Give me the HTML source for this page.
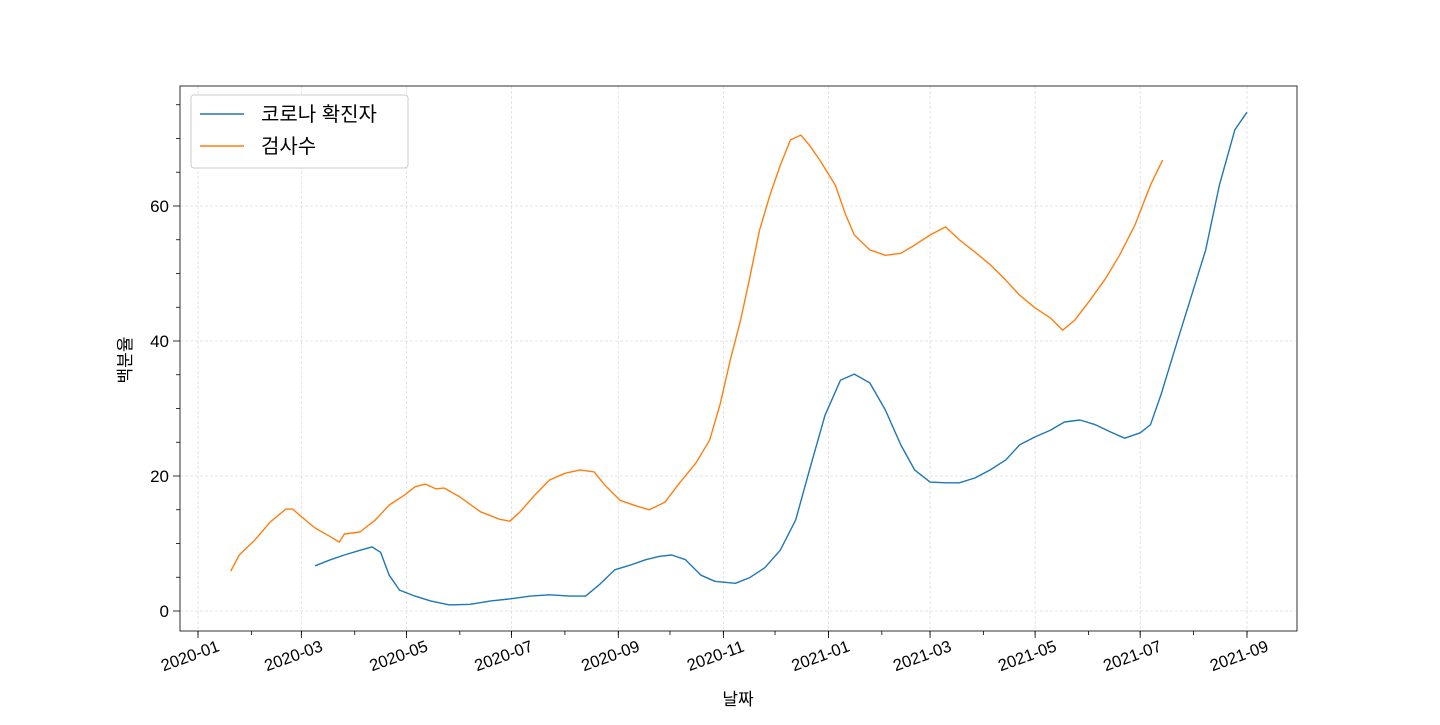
<!DOCTYPE html>
<html><head><meta charset="utf-8"><style>
body{margin:0;background:#fff;}
svg text{font-family:"Liberation Sans","Noto Sans CJK KR",sans-serif;}
</style></head><body>
<svg id="chart" width="1440" height="720" xmlns="http://www.w3.org/2000/svg"></svg>
<script>
const confirmedDays=[68,77,85,94,101,106,111,117,126,135,146,158,170,181,193,204,216,225,233,242,251,260,268,275,283,292,300,312,320,329,338,347,355,364,373,381,390,399,408,416,425,434,442,451,460,469,477,486,495,503,512,521,530,538,547,553,559,567,576,585,593,602,609];
const confirmedVals=[6.7,7.6,8.3,9,9.5,8.7,5.3,3.1,2.2,1.5,0.9,1,1.5,1.8,2.2,2.4,2.2,2.2,3.9,6.1,6.8,7.6,8.1,8.3,7.6,5.3,4.4,4.1,4.9,6.4,9,13.5,20.9,29,34.2,35.1,33.8,29.8,24.6,20.9,19.1,19,19,19.7,20.9,22.4,24.6,25.8,26.8,28,28.3,27.6,26.5,25.6,26.4,27.6,32,38.7,46.1,53.5,63.1,71.3,73.9];
const testDays=[19,24,33,42,51,55,59,68,77,82,85,94,103,111,120,126,132,138,143,152,164,175,181,187,196,204,213,222,230,236,245,254,262,271,280,289,297,303,309,315,320,326,332,338,344,350,355,361,370,376,381,390,399,408,416,425,434,442,451,460,469,477,486,495,502,509,518,527,535,544,553,560];
const testVals=[5.9,8.3,10.5,13.2,15.1,15.1,14.2,12.3,11,10.2,11.4,11.7,13.5,15.7,17.2,18.4,18.8,18.1,18.2,16.9,14.7,13.6,13.3,14.7,17.3,19.4,20.4,20.9,20.6,18.7,16.4,15.6,15,16.1,19.1,21.9,25.3,30.5,37.2,43.1,49,56.4,61.6,66,69.8,70.5,69,66.8,63.1,58.7,55.7,53.5,52.7,53,54.2,55.7,56.9,55,53.2,51.3,49,46.8,44.9,43.4,41.6,43.1,46.1,49.3,52.7,57.2,63.1,66.8];
const xTickLabels=["2020-01","2020-03","2020-05","2020-07","2020-09","2020-11","2021-01","2021-03","2021-05","2021-07","2021-09"];
const xTickDays=[0,60,121,182,244,305,366,425,486,547,609];
const monthDays=[0,31,60,91,121,152,182,213,244,274,305,335,366,397,425,456,486,517,547,578,609];
const yTicks=[0,20,40,60];
const NS="http://www.w3.org/2000/svg";
const svg=document.getElementById('chart');
const L=180,R=1297,T=86,B=631;
const xs=d=>198+d*1.7225;
const ys=v=>611-v*6.75;
function el(t,a,p){const e=document.createElementNS(NS,t);for(const k in a)e.setAttribute(k,a[k]);(p||svg).appendChild(e);return e;}
xTickDays.forEach(d=>{const g=el('line',{x1:xs(d),x2:xs(d),y1:T,y2:B,stroke:'#ddd','stroke-width':0.8,'stroke-dasharray':'3,2'});

});
yTicks.forEach(v=>{const g=el('line',{x1:L,x2:R,y1:ys(v),y2:ys(v),stroke:'#ddd','stroke-width':0.8,'stroke-dasharray':'3,2'});

});
const fr=el('rect',{x:L,y:T,width:R-L,height:B-T,fill:'none',stroke:'#000','stroke-width':0.8});


monthDays.forEach(d=>{el('line',{x1:xs(d),x2:xs(d),y1:B,y2:B+4,stroke:'#000','stroke-width':0.8});});
for(let v=0;v<=75;v+=5){if(v%20!==0)el('line',{x1:L-4,x2:L,y1:ys(v),y2:ys(v),stroke:'#000','stroke-width':0.8});}
xTickDays.forEach((d,i)=>{el('line',{x1:xs(d),x2:xs(d),y1:B,y2:B+7,stroke:'#000','stroke-width':0.8});
const t=el('text',{x:0,y:0,'font-size':16.5,'text-anchor':'middle',transform:`translate(${xs(d)-6},${B+30}) rotate(-20)`});
t.textContent=xTickLabels[i];

});
yTicks.forEach(v=>{el('line',{x1:L-7,x2:L,y1:ys(v),y2:ys(v),stroke:'#000','stroke-width':0.8});
const t=el('text',{x:L-11,y:ys(v)+6,'font-size':17,'text-anchor':'end'});t.textContent=v;

});
function line(days,vals,color,name){const p=el('path',{d:days.map((d,i)=>(i?'L':'M')+xs(d).toFixed(1)+','+ys(vals[i]).toFixed(1)).join(''),fill:'none',stroke:color,'stroke-width':1.4,'stroke-linejoin':'round'});

}
line(confirmedDays,confirmedVals,'#1f77b4','confirmed-line');
line(testDays,testVals,'#ff7f0e','tests-line');
const xt=el('text',{x:738,y:705,'font-size':17,'text-anchor':'middle'});xt.textContent='날짜';


const yt=el('text',{x:0,y:0,'font-size':17,'text-anchor':'middle',transform:'translate(131,360) rotate(-90)'});yt.textContent='백분율';


const lg=el('g',{});


el('rect',{x:191,y:95,width:217,height:73,rx:3,fill:'#fff',stroke:'#ccc','stroke-width':1},lg);
[['코로나 확진자','#1f77b4',114],['검사수','#ff7f0e',146]].forEach(([n,c,y])=>{
el('line',{x1:200,x2:244,y1:y,y2:y,stroke:c,'stroke-width':1.4},lg);
const t=el('text',{x:261,y:y+7,'font-size':20},lg);t.textContent=n;

});
</script>
</body></html>
